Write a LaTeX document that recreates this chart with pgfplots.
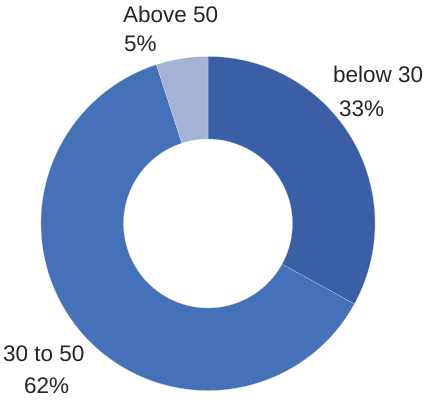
\documentclass[border=0pt]{standalone}
\usepackage{pgfplots}
\pgfplotsset{compat=1.18}
\usepackage{pgfplotstable}
\usepackage{fontspec}
\setmainfont{Liberation Sans}
\definecolor{cBelow}{RGB}{59,95,166}
\definecolor{cMid}{RGB}{68,113,183}
\definecolor{cAbove}{RGB}{164,178,214}
\definecolor{txt}{RGB}{40,36,38}
% slice percentages and their angular extent (clockwise from top)
\pgfplotstableread{
cx cy pct start end
208 178.5 33 90 -28.8
}\tbelow
\pgfplotstableread{
cx cy pct start end
208 178.5 62 -28.8 -252
}\tmid
\pgfplotstableread{
cx cy pct start end
208 178.5 5 -252 -270
}\tabove
\pgfplotsset{
  donut/.style={
    scatter, only marks, mark=*, mark size=0pt,
    visualization depends on={\thisrow{start} \as \sa},
    visualization depends on={\thisrow{end} \as \ea},
    scatter/@pre marker code/.append code={
      \fill[#1, draw=white!70!#1, line width=0.2pt]
        (\sa:167pt) arc[start angle=\sa, end angle=\ea, radius=167pt]
        -- (\ea:84.5pt) arc[start angle=\ea, end angle=\sa, radius=84.5pt] -- cycle;
    },
  },
}
\begin{document}
\begin{tikzpicture}
\begin{axis}[
  x=1pt, y=1pt,
  xmin=0, xmax=429, ymin=0, ymax=402,
  scale only axis, hide axis, clip=false,
]
\path (axis cs:0,0) rectangle (axis cs:429,402);
\addplot[donut=cBelow] table[x=cx,y=cy] {\tbelow};
\addplot[donut=cMid] table[x=cx,y=cy] {\tmid};
\addplot[donut=cAbove] table[x=cx,y=cy] {\tabove};
\begin{scope}[every node/.style={anchor=base west, inner sep=0pt, text=txt, font=\fontsize{22.5}{27}\selectfont}]
\node at (axis cs:123,379) {Above 50};
\node at (axis cs:124,350) {5\%};
\node at (axis cs:333,319) {below 30};
\node at (axis cs:339,285) {33\%};
\node at (axis cs:3,40) {30 to 50};
\node at (axis cs:24,8) {62\%};
\end{scope}
\end{axis}
\end{tikzpicture}
\end{document}
